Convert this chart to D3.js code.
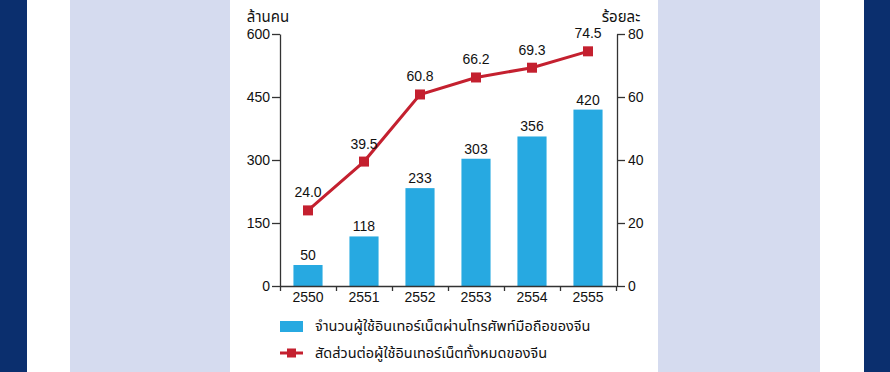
<!DOCTYPE html>
<html>
<head>
<meta charset="utf-8">
<script src="https://cdn.jsdelivr.net/npm/d3@7"></script>
<style>
  body { margin: 0; background: #fff; }
  text { font-family: "Liberation Sans", Arial, "Noto Sans Thai", "Noto Sans", sans-serif; fill: #111; }
  .axis path, .axis line { stroke: #333; stroke-width: 1.3; }
  .axis text { font-size: 14px; }
</style>
</head>
<body>
<div id="chart"></div>
<script>
var years = ["2550", "2551", "2552", "2553", "2554", "2555"];
var mobileUsers = [50, 118, 233, 303, 356, 420];
var shareOfAll = [24.0, 39.5, 60.8, 66.2, 69.3, 74.5];
var leftTicks = [0, 150, 300, 450, 600];
var rightTicks = [0, 20, 40, 60, 80];
var leftTitle = "ล้านคน";
var rightTitle = "ร้อยละ";
var legendLabels = ["จำนวนผู้ใช้อินเทอร์เน็ตผ่านโทรศัพท์มือถือของจีน", "สัดส่วนต่อผู้ใช้อินเทอร์เน็ตทั้งหมดของจีน"];

var pal = { navy: "#0B2F6E", lav: "#D5DBEF", blue: "#27A9E1", red: "#C4202F" };

var W = 890, H = 372;
var svg = d3.select("#chart").append("svg")
    .attr("width", W)
    .attr("height", H);

// page background bands
svg.append("rect").attr("x", 0).attr("y", 0).attr("width", 27).attr("height", H).attr("fill", pal.navy);
svg.append("rect").attr("x", 864).attr("y", 0).attr("width", 26).attr("height", H).attr("fill", pal.navy);
svg.append("rect").attr("x", 70).attr("y", 0).attr("width", 160).attr("height", H).attr("fill", pal.lav);
svg.append("rect").attr("x", 658).attr("y", 0).attr("width", 162).attr("height", H).attr("fill", pal.lav);

var x0 = 280, x1 = 616, yTop = 34, yBot = 286;

var x = d3.scaleBand()
    .domain(years)
    .range([x0, x1])
    .paddingInner(0.48)
    .paddingOuter(0.24);

var yL = d3.scaleLinear().domain([0, 600]).range([yBot, yTop]);
var yR = d3.scaleLinear().domain([0, 80]).range([yBot, yTop]);

// bars
svg.selectAll(".bar")
    .data(mobileUsers)
  .enter().append("rect")
    .attr("class", "bar")
    .attr("x", function(d, i) { return x(years[i]); })
    .attr("y", function(d) { return yL(d); })
    .attr("width", x.bandwidth())
    .attr("height", function(d) { return yBot - yL(d); })
    .attr("fill", pal.blue);

svg.selectAll(".barlab")
    .data(mobileUsers)
  .enter().append("text")
    .attr("x", function(d, i) { return x(years[i]) + x.bandwidth() / 2; })
    .attr("y", function(d) { return yL(d) - 5; })
    .attr("text-anchor", "middle")
    .attr("font-size", "14px")
    .text(function(d) { return d; });

// axes
svg.append("g")
    .attr("class", "axis")
    .attr("transform", "translate(" + x0 + ",0)")
    .call(d3.axisLeft(yL).tickValues(leftTicks).tickSize(8).tickSizeOuter(0).tickPadding(2));

svg.append("g")
    .attr("class", "axis")
    .attr("transform", "translate(" + (x1 + 1) + ",0)")
    .call(d3.axisRight(yR).tickValues(rightTicks).tickSize(8).tickSizeOuter(0).tickPadding(3));

var xb = d3.scaleLinear().domain([0, years.length]).range([x0, x1]);
svg.append("g")
    .attr("class", "axis")
    .attr("transform", "translate(0," + yBot + ")")
    .call(d3.axisBottom(xb).ticks(years.length).tickSize(5).tickSizeOuter(0).tickFormat(""));

svg.append("g")
    .attr("class", "axis")
    .attr("transform", "translate(0," + yBot + ")")
    .call(d3.axisBottom(x).tickSize(0).tickPadding(6))
    .call(function(g) { g.select(".domain").remove(); });

// line
var line = d3.line()
    .x(function(d, i) { return x(years[i]) + x.bandwidth() / 2; })
    .y(function(d) { return yR(d); });

svg.append("path")
    .datum(shareOfAll)
    .attr("fill", "none")
    .attr("stroke", pal.red)
    .attr("stroke-width", 3)
    .attr("d", line);

svg.selectAll(".pt")
    .data(shareOfAll)
  .enter().append("rect")
    .attr("x", function(d, i) { return x(years[i]) + x.bandwidth() / 2 - 5; })
    .attr("y", function(d) { return yR(d) - 5; })
    .attr("width", 10)
    .attr("height", 10)
    .attr("fill", pal.red);

svg.selectAll(".ptlab")
    .data(shareOfAll)
  .enter().append("text")
    .attr("x", function(d, i) { return x(years[i]) + x.bandwidth() / 2; })
    .attr("y", function(d) { return yR(d) - 13; })
    .attr("text-anchor", "middle")
    .attr("font-size", "14px")
    .text(function(d) { return d3.format(".1f")(d); });

// axis titles
svg.append("text").attr("x", 268).attr("y", 22).attr("text-anchor", "middle").attr("font-size", "15px").text(leftTitle);
svg.append("text").attr("x", 621).attr("y", 22).attr("text-anchor", "middle").attr("font-size", "15px").text(rightTitle);

// legend
var lg = svg.append("g").attr("transform", "translate(280,326)");
lg.append("rect").attr("x", 0).attr("y", -5).attr("width", 23).attr("height", 11).attr("fill", pal.blue);
lg.append("text").attr("x", 35).attr("y", 0).attr("dy", "0.35em").attr("font-size", "14.5px").text(legendLabels[0]);

var lg2 = svg.append("g").attr("transform", "translate(280,353)");
lg2.append("line").attr("x1", 0).attr("x2", 23).attr("y1", 0).attr("y2", 0).attr("stroke", pal.red).attr("stroke-width", 3);
lg2.append("rect").attr("x", 7).attr("y", -4.5).attr("width", 9).attr("height", 9).attr("fill", pal.red);
lg2.append("text").attr("x", 35).attr("y", 0).attr("dy", "0.35em").attr("font-size", "14.5px").text(legendLabels[1]);
</script>
</body>
</html>
